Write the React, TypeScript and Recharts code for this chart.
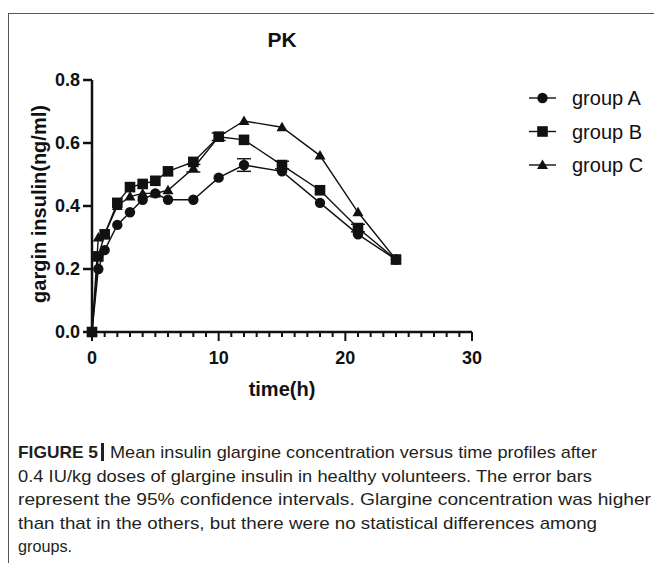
import { LineChart, Line, XAxis, YAxis, ErrorBar } from 'recharts';

const times = [0, 0.5, 1, 2, 3, 4, 5, 6, 8, 10, 12, 15, 18, 21, 24];
const groupA = [0, 0.2, 0.26, 0.34, 0.38, 0.42, 0.44, 0.42, 0.42, 0.49, 0.53, 0.51, 0.41, 0.31, 0.23];
const groupB = [0, 0.24, 0.31, 0.41, 0.46, 0.47, 0.48, 0.51, 0.54, 0.62, 0.61, 0.53, 0.45, 0.33, 0.23];
const groupC = [0, 0.3, 0.31, 0.4, 0.43, 0.44, 0.44, 0.45, 0.52, 0.62, 0.67, 0.65, 0.56, 0.38, 0.23];
const errA = [0, 0, 0, 0, 0, 0, 0, 0, 0, 0, 0.02, 0, 0, 0, 0];
const errB = [0, 0, 0, 0, 0, 0, 0, 0, 0, 0.012, 0, 0.012, 0, 0.012, 0];
const errC = [0, 0, 0, 0, 0, 0, 0, 0, 0.012, 0, 0, 0, 0, 0, 0];

const seriesNames = ['group A', 'group B', 'group C'];
const yTicks = [0, 0.2, 0.4, 0.6, 0.8];
const xMajorTicks = [0, 10, 20, 30];
const xMinorTicks = Array.from({ length: 31 }, (_, i) => i);

const captionLead = 'FIGURE 5';
const captionLines = [
  'Mean insulin glargine concentration versus time profiles after',
  '0.4 IU/kg doses of glargine insulin in healthy volunteers. The error bars',
  'represent the 95% confidence intervals. Glargine concentration was higher',
  'than that in the others, but there were no statistical differences among',
  'groups.',
];

const data = times.map((t, i) => ({
  time: t,
  a: groupA[i],
  b: groupB[i],
  c: groupC[i],
  aErr: errA[i],
  bErr: errB[i],
  cErr: errC[i],
}));

const INK = '#111';
const FONT = '"Liberation Sans", Arial, Helvetica, sans-serif';

const Marker = ({ kind, cx, cy }: { kind: string; cx: number; cy: number }) => {
  if (kind === 'circle') return <circle cx={cx} cy={cy} r={5.2} fill={INK} />;
  if (kind === 'square') return <rect x={cx - 5.3} y={cy - 5.3} width={10.6} height={10.6} fill={INK} />;
  return <polygon points={`${cx},${cy - 5.5} ${cx + 5.5},${cy + 4} ${cx - 5.5},${cy + 4}`} fill={INK} />;
};

const makeDot = (kind: string) => (props: any) => (
  <Marker key={`${kind}-${props.index}`} kind={kind} cx={props.cx} cy={props.cy} />
);

const XTick = (props: any) => {
  const { x, y, payload } = props;
  const major = xMajorTicks.includes(payload.value);
  return (
    <g>
      <line x1={x} x2={x} y1={y} y2={y + (major ? 9 : 5)} stroke={INK} strokeWidth={2} />
      {major && (
        <text x={x} y={y + 32} textAnchor="middle" fontSize={18} fontWeight="bold" fill={INK} fontFamily={FONT}>
          {payload.value}
        </text>
      )}
    </g>
  );
};

const legendKinds = ['circle', 'square', 'triangle'];
const legendRows = [98, 131.5, 165];

// caption rows: [x start, baseline, fitted width]
const captionRows = [
  [110, 458, 487],
  [18, 482, 574],
  [18, 505, 633],
  [18, 528.5, 579],
  [18, 552, 54],
];

export default function App() {
  return (
    <div style={{ position: 'absolute', left: 0, top: 0, width: 654, height: 563, background: '#fff' }}>
      <div
        style={{
          position: 'absolute',
          left: 8,
          top: 13,
          width: 646,
          height: 550,
          borderTop: '1px solid #555',
          borderLeft: '1px solid #555',
        }}
      />
      <div style={{ position: 'absolute', left: 0, top: 0 }}>
        <LineChart width={654} height={563} data={data} margin={{ top: 80, right: 182, left: 32, bottom: 201 }}>
          <XAxis
            type="number"
            dataKey="time"
            domain={[0, 30]}
            ticks={xMinorTicks}
            interval={0}
            height={30}
            tickSize={0}
            tickMargin={0}
            tickLine={false}
            tick={XTick}
            axisLine={{ stroke: INK, strokeWidth: 2.5 }}
          />
          <YAxis
            type="number"
            domain={[0, 0.8]}
            ticks={yTicks}
            width={60}
            tickSize={9}
            tickMargin={3}
            tickFormatter={(v: number) => v.toFixed(1)}
            tick={{ fontSize: 18, fontWeight: 'bold', fill: INK, fontFamily: FONT }}
            tickLine={{ stroke: INK, strokeWidth: 2.5 }}
            axisLine={{ stroke: INK, strokeWidth: 2.5 }}
          />
          <Line
            type="linear"
            dataKey="c"
            name={seriesNames[2]}
            stroke={INK}
            strokeWidth={1.4}
            dot={makeDot('triangle')}
            activeDot={false}
            isAnimationActive={false}
          >
            <ErrorBar dataKey="cErr" width={7} stroke={INK} strokeWidth={1.4} direction="y" />
          </Line>
          <Line
            type="linear"
            dataKey="a"
            name={seriesNames[0]}
            stroke={INK}
            strokeWidth={1.4}
            dot={makeDot('circle')}
            activeDot={false}
            isAnimationActive={false}
          >
            <ErrorBar dataKey="aErr" width={7} stroke={INK} strokeWidth={1.4} direction="y" />
          </Line>
          <Line
            type="linear"
            dataKey="b"
            name={seriesNames[1]}
            stroke={INK}
            strokeWidth={1.4}
            dot={makeDot('square')}
            activeDot={false}
            isAnimationActive={false}
          >
            <ErrorBar dataKey="bErr" width={7} stroke={INK} strokeWidth={1.4} direction="y" />
          </Line>
        </LineChart>
      </div>
      <svg
        width={654}
        height={563}
        style={{ position: 'absolute', left: 0, top: 0, pointerEvents: 'none' }}
        fontFamily={FONT}
      >
        <text x={282} y={47} textAnchor="middle" fontSize={21} fontWeight="bold" fill={INK}>
          PK
        </text>
        <text
          x={0}
          y={0}
          transform="translate(46,204) rotate(-90)"
          textAnchor="middle"
          fontSize={20}
          fontWeight="bold"
          fill={INK}
        >
          gargin insulin(ng/ml)
        </text>
        <text x={282} y={396} textAnchor="middle" fontSize={20} fontWeight="bold" fill={INK}>
          time(h)
        </text>
        {seriesNames.map((name, i) => (
          <g key={name}>
            <line x1={529} x2={556} y1={legendRows[i]} y2={legendRows[i]} stroke={INK} strokeWidth={1.4} />
            <Marker kind={legendKinds[i]} cx={542.5} cy={legendRows[i]} />
            <text x={572} y={legendRows[i] + 7} fontSize={20} fill={INK}>
              {name}
            </text>
          </g>
        ))}
        <g fill="#231f20" fontSize={17}>
          <text x={18} y={458} fontWeight="bold" textLength={80} lengthAdjust="spacingAndGlyphs">
            {captionLead}
          </text>
          <rect x={101} y={443} width={3} height={18} fill="#231f20" />
          {captionLines.map((line, i) => (
            <text
              key={i}
              x={captionRows[i][0]}
              y={captionRows[i][1]}
              textLength={captionRows[i][2]}
              lengthAdjust="spacingAndGlyphs"
            >
              {line}
            </text>
          ))}
        </g>
      </svg>
    </div>
  );
}
